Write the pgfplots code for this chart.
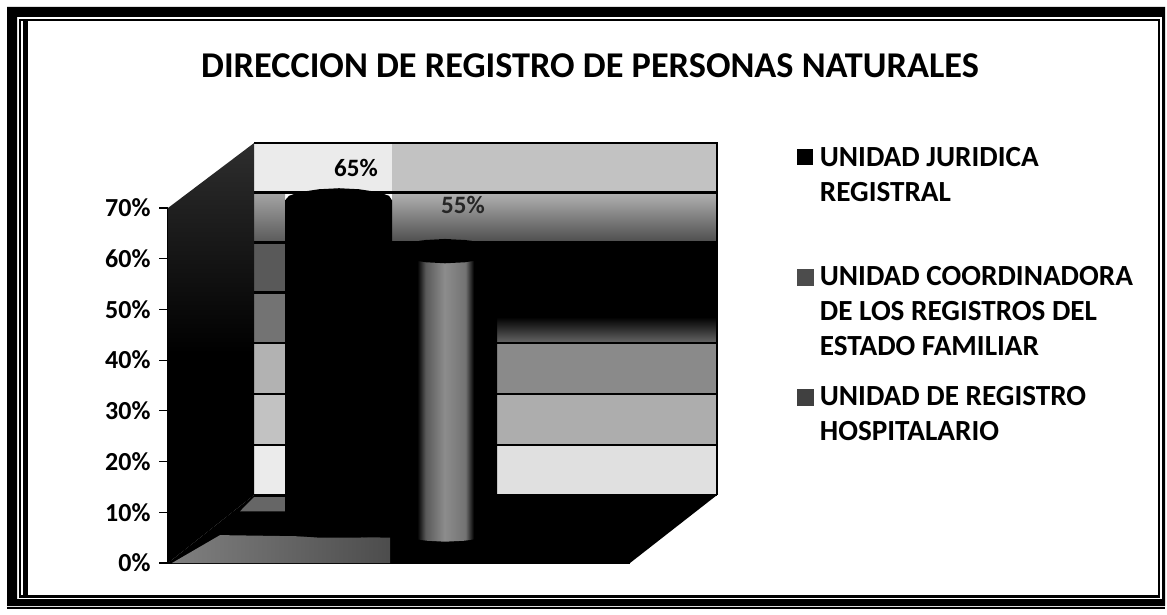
\documentclass[border=0pt]{standalone}
\usepackage{fontspec}
\setmainfont{Carlito}
\usepackage{pgfplots}
\pgfplotsset{compat=1.18}
\pgfdeclarehorizontalshading{cylgray}{100bp}{color(0bp)=(black); color(37bp)=(black); color(41bp)=(black!65!white); color(50bp)=(black!45!white); color(60bp)=(black!55!white); color(64bp)=(black); color(100bp)=(black)}
\begin{document}
\begin{tikzpicture}[x=1pt,y=1pt]
\useasboundingbox (0,0) rectangle (1167,614);
\fill[white] (0,0) rectangle (1167,614);
% scanned frame
\fill[black,even odd rule] (7,607) rectangle (1165,8) (17,597) rectangle (1162,15);
\fill[black] (7,7) rectangle (1165,5);
\draw[black,line width=2.2pt] (20,594) rectangle (1159,17.5);
\fill[black] (23,593) rectangle (27.5,18);
\begin{axis}[
  at={(168pt,51pt)},anchor=south west,
  scale only axis,width=462pt,height=355pt,
  xmin=168,xmax=630,ymin=0,ymax=70,
  clip=false,
  axis lines=left,
  axis line style={-,black,line width=1.5pt},
  xtick=\empty,
  ytick={0,10,20,30,40,50,60,70},
  yticklabel={\pgfmathprintnumber{\tick}\%},
  /pgf/number format/assume math mode=true,
  tick align=outside,
  major tick length=9pt,
  tick style={black,line width=1.2pt},
  yticklabel style={font=\bfseries\fontsize{26}{30}\selectfont,text=black,xshift=-5pt},
  legend cell align=left,
  legend style={at={(axis cs:796.5,82.4)},anchor=north west,draw=none,fill=none,inner sep=0pt,outer sep=0pt,
    font=\bfseries\fontsize{29.2}{35}\selectfont,row sep=95pt},
  legend image code/.code={\fill[#1] (0pt,-8pt) rectangle (16pt,8pt);},
]
% back wall bands (x in picture pixels, y in axis percent)
\addplot[forget plot,draw=none,fill=white!92!black] coordinates {(254,82.8)(392,82.8)(392,73.1)(254,73.1)} -- cycle;
\addplot[forget plot,draw=none,fill=black!24] coordinates {(392,82.8)(717,82.8)(717,73.1)(392,73.1)} -- cycle;
\addplot[forget plot,draw=none,top color=black!30,bottom color=black!70] coordinates {(392,73.1)(717,73.1)(717,63.2)(392,63.2)} -- cycle;
\addplot[forget plot,draw=none,top color=black!35,bottom color=black!65] coordinates {(254,73.1)(285,73.1)(285,63.2)(254,63.2)} -- cycle;
\addplot[forget plot,draw=none,fill=black!65] coordinates {(254,63.2)(285,63.2)(285,53.3)(254,53.3)} -- cycle;
\addplot[forget plot,draw=none,fill=black!55] coordinates {(254,53.3)(285,53.3)(285,43.4)(254,43.4)} -- cycle;
\addplot[forget plot,draw=none,fill=black!30] coordinates {(254,43.4)(285,43.4)(285,33.3)(254,33.3)} -- cycle;
\addplot[forget plot,draw=none,fill=black!24] coordinates {(254,33.3)(285,33.3)(285,23.3)(254,23.3)} -- cycle;
\addplot[forget plot,draw=none,fill=black!8] coordinates {(254,23.3)(285,23.3)(285,13.4)(254,13.4)} -- cycle;
\addplot[forget plot,draw=none,fill=black] coordinates {(392,63.2)(717,63.2)(717,48.5)(392,48.5)} -- cycle;
\addplot[forget plot,draw=none,top color=black,bottom color=black!60] coordinates {(392,48.5)(717,48.5)(717,43.4)(392,43.4)} -- cycle;
\addplot[forget plot,draw=none,fill=black!46] coordinates {(392,43.4)(717,43.4)(717,33.3)(392,33.3)} -- cycle;
\addplot[forget plot,draw=none,fill=black!32] coordinates {(392,33.3)(717,33.3)(717,23.3)(392,23.3)} -- cycle;
\addplot[forget plot,draw=none,fill=black!12] coordinates {(392,23.3)(717,23.3)(717,13.4)(392,13.4)} -- cycle;
% grid lines on the back wall
\addplot[forget plot,black,line width=2.5pt] coordinates {(254,73.1)(717,73.1)};
\addplot[forget plot,black,line width=2.5pt] coordinates {(254,63.2)(717,63.2)};
\addplot[forget plot,black,line width=2.5pt] coordinates {(254,53.3)(717,53.3)};
\addplot[forget plot,black,line width=2.5pt] coordinates {(254,43.4)(717,43.4)};
\addplot[forget plot,black,line width=2.5pt] coordinates {(254,33.3)(717,33.3)};
\addplot[forget plot,black,line width=2.5pt] coordinates {(254,23.3)(717,23.3)};
\addplot[forget plot,black,line width=2.5pt] coordinates {(254,13.4)(717,13.4)};
\addplot[forget plot,black,line width=1.5pt] coordinates {(254,82.8)(717,82.8)(717,13.4)};
% left wall and floor
\addplot[forget plot,draw=none,top color=black!82,bottom color=black,middle color=black] coordinates {(168,70)(254,82.8)(254,13.4)(168,0)} -- cycle;
\addplot[forget plot,draw=none,fill=black] coordinates {(168,0)(630,0)(717,13.4)(254,13.4)} -- cycle;
\addplot[forget plot,draw=none,left color=black!50,right color=black!70] coordinates {(172,0)(390,0)(390,5)(220,5.5)} -- cycle;
\addplot[forget plot,draw=none,fill=black!60] coordinates {(240,10.2)(254,13)(285,13)(285,10.2)} -- cycle;
% series 2: cylinder, 55 above its base at 6.5
\addplot[forget plot,shading=cylgray,draw=none] coordinates {(392,61.5)(396,62.4)(406,63.1)(426,63.7)(445,63.9)(465,63.7)(485,63.1)(494,62.4)(497,61.5)(497,6.5)(494,5.6)(485,5)(465,4.4)(445,4.2)(426,4.4)(406,5)(396,5.6)(392,6.5)} -- cycle;
\addplot[forget plot,fill=black,draw=none] coordinates {(392,61.5)(396,62.4)(406,63.1)(426,63.7)(445,63.9)(465,63.7)(485,63.1)(494,62.4)(497,61.5)(494,60.6)(485,59.9)(465,59.3)(445,59.1)(426,59.3)(406,59.9)(396,60.6)} -- cycle;
% series 1: cylinder, 65 above its base at 6.5
\addplot[fill=black,draw=none] coordinates {(285,71.5)(289,72.4)(299,73.1)(319,73.7)(339,73.9)(359,73.7)(379,73.1)(389,72.4)(392,71.5)(392,6.5)(389,5.7)(379,5.3)(359,5)(339,5)(319,5)(299,5.3)(289,5.7)(285,6.5)} -- cycle;
\addlegendentry{\hspace*{5pt}\parbox[t]{340pt}{UNIDAD JURIDICA\\REGISTRAL}}
\addlegendimage{legend image code/.code={\fill[black!70] (0pt,-8pt) rectangle (16pt,8pt);}}
\addlegendentry{\hspace*{5pt}\parbox[t]{340pt}{UNIDAD COORDINADORA\\DE LOS REGISTROS DEL\\ESTADO FAMILIAR}}
\addlegendimage{legend image code/.code={\fill[black!75] (0pt,-8pt) rectangle (16pt,8pt);}}
\addlegendentry{\hspace*{5pt}\parbox[t]{340pt}{UNIDAD DE REGISTRO\\HOSPITALARIO}}
\end{axis}
% text placed in picture coordinates
\node[font=\bfseries\fontsize{36.3}{42}\selectfont,text=black] at (590,548) {DIRECCION DE REGISTRO DE PERSONAS NATURALES};
\node[font=\bfseries\fontsize{25}{30}\selectfont,text=black] at (356,446) {65\%};
\node[font=\bfseries\fontsize{25}{30}\selectfont,text=black!85] at (463,409) {55\%};
\end{tikzpicture}
\end{document}
